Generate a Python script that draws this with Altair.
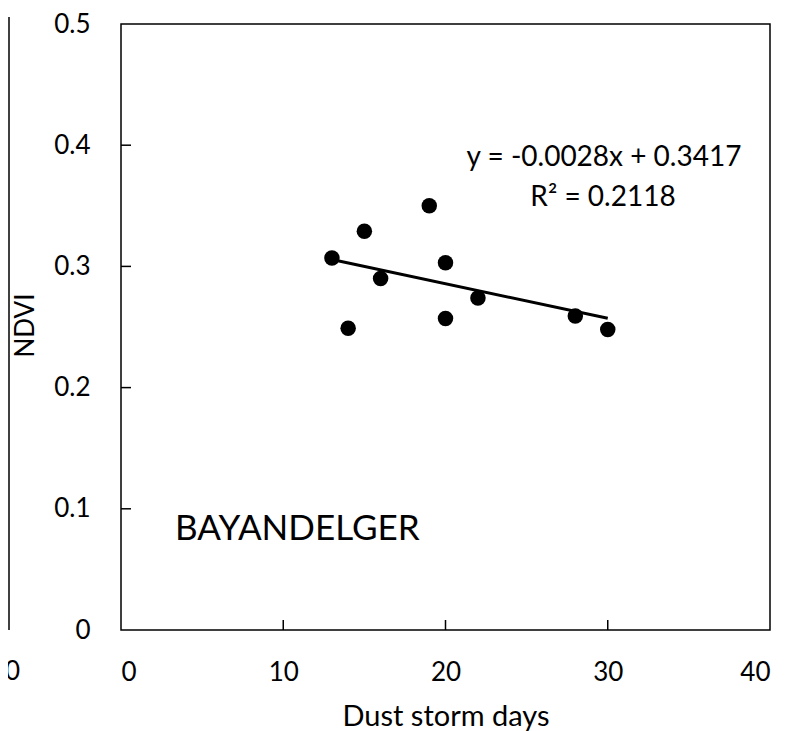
import altair as alt
import pandas as pd

# ---- data ----
days = [13, 14, 15, 16, 19, 20, 20, 22, 28, 30]
ndvi = [0.307, 0.249, 0.329, 0.290, 0.350, 0.303, 0.257, 0.274, 0.259, 0.248]
x_ticks = [0, 10, 20, 30, 40]
y_ticks = [0, 0.1, 0.2, 0.3, 0.4, 0.5]
inner_x_ticks = [10, 20, 30]
inner_y_ticks = [0.1, 0.2, 0.3, 0.4]
eq_lines = ["y = -0.0028x + 0.3417", "R² = 0.2118"]
station = ["BAYANDELGER"]
neighbour_label = ["40"]

W, H = 649, 606
FONT = "Lato"

pts = pd.DataFrame({"days": days, "ndvi": ndvi})
xs = alt.Scale(domain=[0, 40], nice=False, zero=False)
ys = alt.Scale(domain=[0, 0.5], nice=False, zero=False)

x_axis = alt.Axis(
    values=x_ticks, title="Dust storm days", grid=False, domain=False,
    ticks=False, tickSize=0, labelPadding=50, labelBaseline="alphabetic",
    labelFont=FONT, labelFontSize=26, labelColor="black", titleFont=FONT,
    titleFontSize=29, titleFontWeight="normal", titleColor="black",
    titleX=W / 2, titleY=95, titleBaseline="alphabetic")
y_axis = alt.Axis(
    values=y_ticks, title="NDVI", grid=False, domain=False, ticks=False,
    tickSize=0, labelPadding=31, labelFont=FONT,
    labelFontSize=26, labelColor="black",
    labelExpr="datum.value == 0 ? '0' : format(datum.value, '.1f')",
    titleFont=FONT, titleFontSize=26, titleFontWeight="normal",
    titleColor="black", titleX=-96, titleY=301, titleAngle=-90,
    titleBaseline="middle")

points = alt.Chart(pts).mark_circle(size=240, color="black", opacity=1).encode(
    x=alt.X("days:Q", scale=xs, axis=x_axis),
    y=alt.Y("ndvi:Q", scale=ys, axis=y_axis),
)

trend = alt.Chart(pts).transform_regression("days", "ndvi").mark_line(
    color="black", strokeWidth=3).encode(
    x=alt.X("days:Q", scale=xs, axis=x_axis),
    y=alt.Y("ndvi:Q", scale=ys, axis=y_axis),
)

xt = alt.Chart(pd.DataFrame({"days": inner_x_ticks})).mark_rule(
    color="black", strokeWidth=1.5).encode(
    x=alt.X("days:Q", scale=xs, axis=x_axis),
    y=alt.value(H - 10), y2=alt.value(H),
)
yt = alt.Chart(pd.DataFrame({"ndvi": inner_y_ticks})).mark_rule(
    color="black", strokeWidth=1.5).encode(
    y=alt.Y("ndvi:Q", scale=ys, axis=y_axis),
    x=alt.value(0), x2=alt.value(10),
)

eq1 = alt.Chart(pd.DataFrame({"s": [eq_lines[0]]})).mark_text(
    font=FONT, fontSize=28, color="black", align="center", baseline="middle"
).encode(text="s:N", x=alt.value(483), y=alt.value(134))
eq2 = alt.Chart(pd.DataFrame({"s": [eq_lines[1]]})).mark_text(
    font=FONT, fontSize=28, color="black", align="center", baseline="middle"
).encode(text="s:N", x=alt.value(482), y=alt.value(174))

name = alt.Chart(pd.DataFrame({"s": station})).mark_text(
    font=FONT, fontSize=35, color="black", align="left", baseline="middle"
).encode(text="s:N", x=alt.value(54), y=alt.value(505))

# fragment of the neighbouring panel visible at the left edge
nb_line = alt.Chart(pd.DataFrame({"s": neighbour_label})).mark_rule(
    color="black", strokeWidth=1.5).encode(
    x=alt.value(-112), y=alt.value(-7), y2=alt.value(H))
nb_text = alt.Chart(pd.DataFrame({"s": neighbour_label})).mark_text(
    font=FONT, fontSize=26, color="black", align="right", baseline="alphabetic"
).encode(text="s:N", x=alt.value(-101), y=alt.value(H + 50))

chart = alt.layer(points, trend, xt, yt, eq1, eq2, name, nb_line, nb_text).properties(
    width=W, height=H,
    autosize=alt.AutoSizeParams(type="none"),
    padding={"left": 113, "top": 16, "right": 10, "bottom": 105},
    background="white",
).configure_view(stroke="black", strokeWidth=1.5)

chart.save("out.html", embed_options={"renderer": "svg", "actions": False})
